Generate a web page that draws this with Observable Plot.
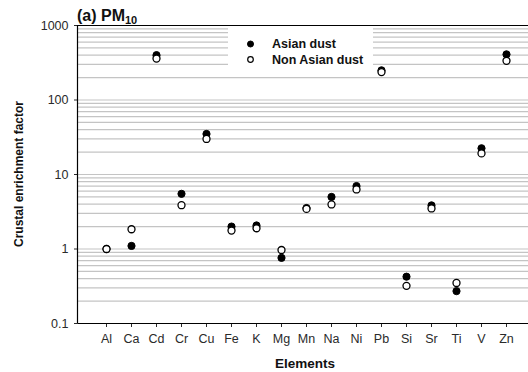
<!DOCTYPE html>
<html>
<head>
<meta charset="utf-8">
<script src="https://cdn.jsdelivr.net/npm/d3@7"></script>
<script src="https://cdn.jsdelivr.net/npm/@observablehq/plot@0.6"></script>
<style>
  html, body { margin: 0; padding: 0; background: #fff; }
  svg { font-family: "Liberation Sans", Arial, sans-serif; }
</style>
</head>
<body>
<div id="chart"></div>
<script>
const elements = ["Al","Ca","Cd","Cr","Cu","Fe","K","Mg","Mn","Na","Ni","Pb","Si","Sr","Ti","V","Zn"];
const asianDust = [1.0, 1.1, 400, 5.5, 35, 2.0, 2.07, 0.76, 3.55, 5.0, 7.0, 250, 0.425, 3.85, 0.272, 22.5, 410];
const nonAsianDust = [1.0, 1.84, 360, 3.87, 30, 1.77, 1.9, 0.97, 3.45, 3.96, 6.3, 237, 0.32, 3.5, 0.35, 19.2, 336];
const yTicks = [0.1, 1, 10, 100, 1000];
const seriesNames = ["Asian dust", "Non Asian dust"];

const asianData = elements.map((e, i) => ({element: e, value: asianDust[i]}));
const nonAsianData = elements.map((e, i) => ({element: e, value: nonAsianDust[i]}));
const gridValues = d3.scaleLog().domain([0.1, 1000]).ticks().filter(v => v > 0.1 && v < 1000);

const W = 528, H = 372, ML = 78, MT = 25, MB = 49;

function overlay() {
  const g = d3.create("svg:g").attr("text-anchor", "start");
  // legend box covering gridlines
  g.append("rect").attr("x", 228).attr("y", 26.5).attr("width", 145).attr("height", 49).attr("fill", "#fff");
  g.append("circle").attr("cx", 250.5).attr("cy", 44).attr("r", 3).attr("fill", "#000").attr("stroke", "#000");
  g.append("circle").attr("cx", 250.5).attr("cy", 59.5).attr("r", 2.8).attr("fill", "#fff").attr("stroke", "#000").attr("stroke-width", 1.2);
  g.append("text").attr("x", 272).attr("y", 48.3).attr("text-anchor", "start").attr("font-size", 12.5).attr("font-weight", "bold").attr("fill", "#111").text(seriesNames[0]);
  g.append("text").attr("x", 272).attr("y", 63.8).attr("text-anchor", "start").attr("font-size", 12.5).attr("font-weight", "bold").attr("fill", "#111").text(seriesNames[1]);
  // left axis line
  g.append("line").attr("x1", ML - 0.5).attr("x2", ML - 0.5).attr("y1", MT).attr("y2", H - MB).attr("stroke", "#000").attr("stroke-width", 1.2);
  // title
  const t = g.append("text").attr("x", 77).attr("y", 21).attr("text-anchor", "start").attr("font-size", 16).attr("font-weight", "bold").attr("fill", "#111");
  t.append("tspan").text("(a) PM");
  t.append("tspan").attr("font-size", 11).attr("dy", 3).text("10");
  // axis titles
  g.append("text").attr("transform", `translate(19,${(MT + H - MB) / 2}) rotate(-90)`).attr("text-anchor", "middle")
    .attr("dy", "0.35em").attr("font-size", 12).attr("font-weight", "bold").attr("fill", "#111").text("Crustal enrichment factor");
  g.append("text").attr("x", 305).attr("y", 363.5).attr("text-anchor", "middle").attr("dy", "0.35em")
    .attr("font-size", 13.5).attr("font-weight", "bold").attr("fill", "#111").text("Elements");
  return g.node();
}

const chart = Plot.plot({
  width: W,
  height: H,
  marginLeft: ML,
  marginRight: 0,
  marginTop: MT,
  marginBottom: MB,
  style: {fontFamily: "Liberation Sans, Arial, sans-serif", fontSize: "12.5px", color: "#2a2a2a", background: "#fff"},
  x: {type: "point", domain: elements, range: [103, 508], padding: 0, label: null, tickSize: 4, tickPadding: 7},
  y: {type: "log", domain: [0.1, 1000], ticks: yTicks, tickFormat: d => String(d), label: null, tickSize: 4, tickPadding: 6},
  marks: [
    Plot.ruleY(gridValues, {stroke: "#c4c4c4", strokeWidth: 1.2}),
    Plot.ruleY([1000], {stroke: "#000", strokeWidth: 1.2}),
    Plot.ruleY([0.1], {stroke: "#000", strokeWidth: 1.2}),
    overlay,
    Plot.dot(asianData, {x: "element", y: "value", r: 3.6, fill: "#000", stroke: "#000", strokeWidth: 1}),
    Plot.dot(nonAsianData, {x: "element", y: "value", r: 3.5, fill: "#fff", stroke: "#000", strokeWidth: 1.3})
  ]
});
document.getElementById("chart").appendChild(chart);
</script>
</body>
</html>
